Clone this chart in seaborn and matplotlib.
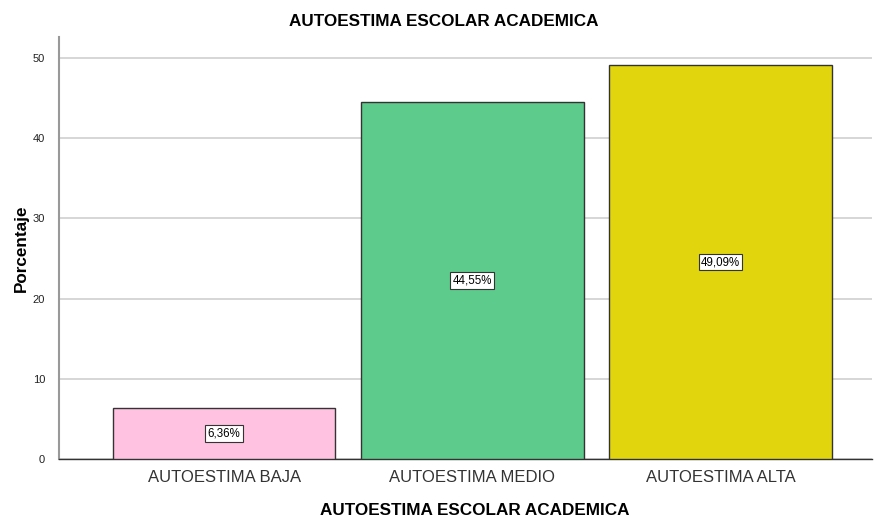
import pandas as pd
import seaborn as sns
import matplotlib.pyplot as plt

# Datos del grafico
categorias = ['AUTOESTIMA BAJA', 'AUTOESTIMA MEDIO', 'AUTOESTIMA ALTA']
porcentajes = [6.36, 44.55, 49.09]
colores = ['#FFC2E0', '#5DCB8B', '#E1D60E']

df = pd.DataFrame({'categoria': categorias, 'porcentaje': porcentajes})

sns.set_style('white')
plt.rcParams['font.family'] = ['Arial', 'Liberation Sans', 'DejaVu Sans']

fig = plt.figure(figsize=(8.75, 5.18), dpi=100)
ax = fig.add_axes([0.0674, 0.1139, 0.9292, 0.8147])

sns.barplot(data=df, x='categoria', y='porcentaje', hue='categoria',
            palette=colores, saturation=1, width=0.896, edgecolor='#333333',
            linewidth=1, legend=False, ax=ax, zorder=3)

ax.set_xlim(-0.665, 2.61)
ax.set_ylim(0, 52.6)
ax.set_yticks([0, 10, 20, 30, 40, 50])
ax.yaxis.grid(True, color='#d0d0d0', linewidth=1.2, zorder=0)
ax.set_axisbelow(True)

for s in ['top', 'right']:
    ax.spines[s].set_visible(False)
ax.spines['left'].set_color('#999999')
ax.spines['left'].set_linewidth(1.5)
ax.spines['bottom'].set_color('#333333')
ax.spines['bottom'].set_linewidth(1)

ax.tick_params(axis='y', labelsize=8, length=0, pad=10, labelcolor='#222222')
ax.tick_params(axis='x', labelsize=12, length=0, pad=8, labelcolor='#333333')

# Etiquetas de porcentaje en el centro de cada barra
for i, v in enumerate(porcentajes):
    ax.text(i, v / 2, f'{v:.2f}%'.replace('.', ','), ha='center', va='center',
            fontsize=8.3, color='black', zorder=5,
            bbox=dict(boxstyle='square,pad=0.2', facecolor='white',
                      edgecolor='#333333', linewidth=0.8))

fig.text(0.507, 0.958, 'AUTOESTIMA ESCOLAR ACADEMICA', ha='center', va='center',
         fontsize=12.3, fontweight='bold', color='black')
ax.set_xlabel('')
fig.text(0.542, 0.015, 'AUTOESTIMA ESCOLAR ACADEMICA', ha='center', va='center',
         fontsize=12.3, fontweight='bold', color='black')
ax.set_ylabel('Porcentaje', fontsize=12.3, fontweight='bold', color='black', labelpad=3)

fig.savefig('out.png', dpi=100)
